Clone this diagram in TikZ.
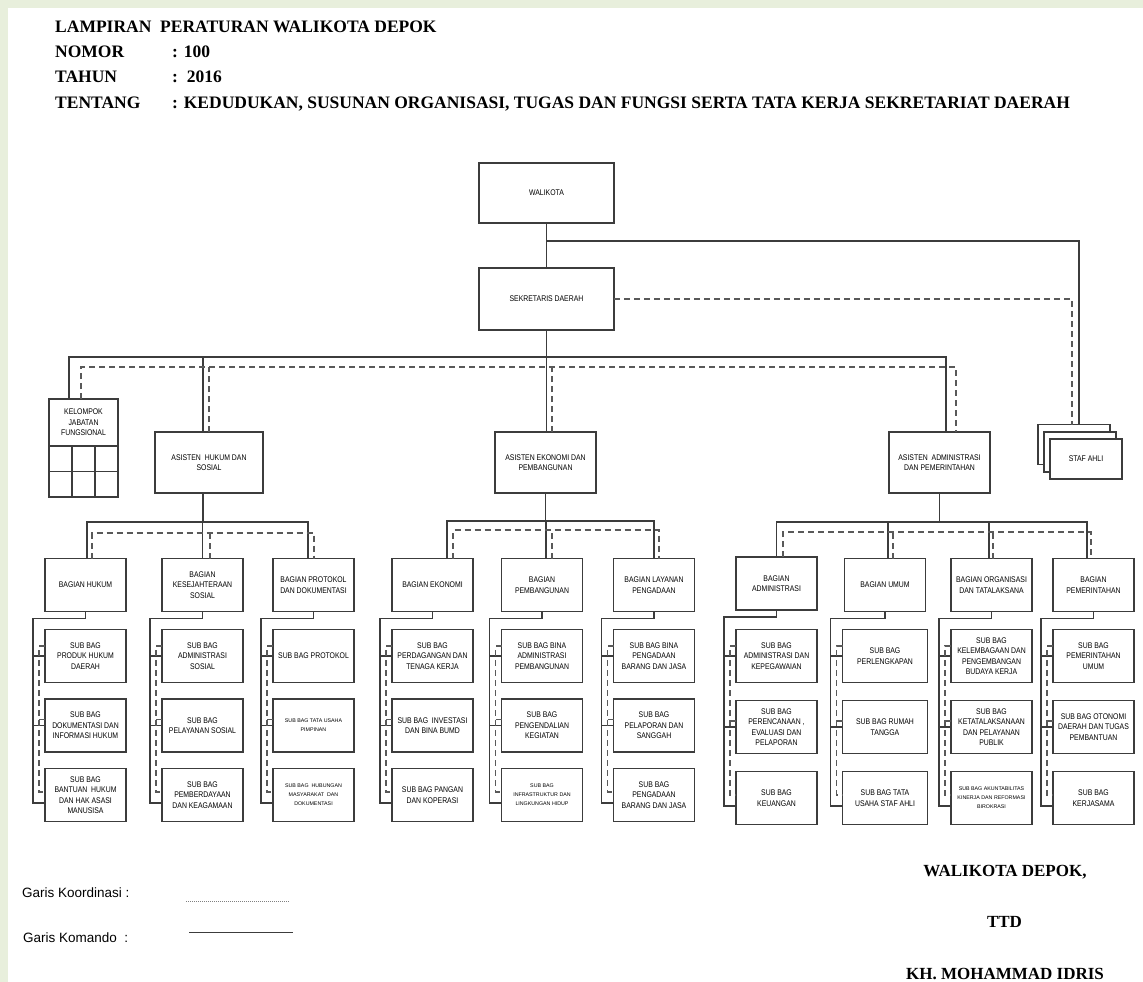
\documentclass[tikz,border=0pt]{standalone}
\usepackage{fontspec}
\setmainfont{Liberation Serif}
\newfontfamily\chartfont[FakeStretch=0.84]{Liberation Sans}
\newfontfamily\plainsans{Liberation Sans}
\usetikzlibrary{positioning,calc}
\definecolor{pagegreen}{HTML}{E8EFDC}
\definecolor{linegray}{HTML}{3C3C3C}

% bagian -> three sub bagian (komando + koordinasi)
\newcommand{\subtreelinks}[4]{%
  \draw[komando] (#1.south) -- ++(0,-7) -| ([xshift=-12pt,yshift=-8pt]#4.west) -- ([yshift=-8pt]#4.west);
  \draw[komando] ([xshift=-12pt]#2.west) -- (#2.west);
  \draw[komando] ([xshift=-12pt]#3.west) -- (#3.west);
  \draw[koordinasi] ([yshift=10pt]#2.west) -| ([xshift=-6pt,yshift=3pt]#4.west) -- ([yshift=3pt]#4.west);
  \draw[koordinasi] ([xshift=-6pt,yshift=6pt]#3.west) -- ([yshift=6pt]#3.west);
}

\begin{document}
\begin{tikzpicture}[
    x=1pt, y=1pt,
    box/.style={draw=linegray, line width=1.1pt, minimum width=81pt, minimum height=53pt, inner sep=1pt, outer sep=0pt, align=center, font=\chartfont\fontsize{8.2}{10.5}\selectfont},
    tinytxt/.style={font=\plainsans\fontsize{5.3}{9}\selectfont},
    cell/.style={draw=linegray, line width=1.1pt, minimum width=23pt, minimum height=25.5pt, inner sep=0pt, outer sep=0pt, anchor=north west},
    komando/.style={draw=linegray, line width=1.1pt},
    koordinasi/.style={draw=linegray!85, line width=1.1pt, dash pattern=on 6pt off 4pt},
    head/.style={font=\bfseries\fontsize{17.5}{20}\selectfont, anchor=base west, inner sep=0pt},
    sig/.style={font=\bfseries\fontsize{17}{20}\selectfont, anchor=base, inner sep=0pt},
    legend/.style={font=\plainsans\fontsize{13.5}{16}\selectfont, anchor=west, inner sep=0pt}
  ]
    % page
    \fill[pagegreen] (0,0) rectangle (1143,-982);
    \fill[white] (8,-8) rectangle (1143,-982);
    \useasboundingbox (0,0) rectangle (1143,-982);

    % heading
    \node[head] (lamp) at (55,-33) {LAMPIRAN\ \ PERATURAN WALIKOTA DEPOK};
    \node[head] (nomor) at (55,-58) {NOMOR};
    \node[head] (nomorv) at (172,-58) {: 100};
    \node[head] (tahun) at (55,-82.5) {TAHUN};
    \node[head] (tahunv) at (172,-82.5) {:\ \ 2016};
    \node[head] (tentang) at (55,-108) {TENTANG};
    \node[head] (tentangv) at (172,-108) {: KEDUDUKAN, SUSUNAN ORGANISASI, TUGAS DAN FUNGSI SERTA TATA KERJA SEKRETARIAT DAERAH};

    % top of the chart
    \node[box, minimum width=135pt, minimum height=60pt] (wali) at (546.5,-193) {WALIKOTA};
    \node[box, minimum width=135pt, minimum height=62pt] (sekda) at (546.5,-299) {SEKRETARIS DAERAH};
    \node[box, minimum width=69pt, minimum height=47pt] (kjf) at (83.5,-422.5) {KELOMPOK\\JABATAN\\FUNGSIONAL};
    \foreach \i in {0,1,2}
      \foreach \j in {0,1}
        \node[cell] (kjf\i\j) at ($(kjf.south west)+(\i*23,-\j*25.5)$) {};
    \node[box, minimum width=108pt, minimum height=61pt] (ashk) at (209,-462.5) {ASISTEN~ HUKUM DAN\\SOSIAL};
    \node[box, minimum width=101pt, minimum height=61pt] (asek) at (545.5,-462.5) {ASISTEN EKONOMI DAN\\PEMBANGUNAN};
    \node[box, minimum width=101pt, minimum height=61pt] (asadm) at (939.5,-462.5) {ASISTEN~ ADMINISTRASI\\DAN PEMERINTAHAN};
    \node[box, minimum width=72pt, minimum height=40pt] (stafa) at (1074,-444.5) {};
    \node[box, minimum width=72pt, minimum height=40pt, fill=white] (stafb) at (1080,-452) {};
    \node[box, minimum width=72pt, minimum height=40pt, fill=white] (stafc) at (1086,-459) {STAF AHLI};

    % bagian
    \node[box] (bhk) at (85.5,-585) {BAGIAN HUKUM};
    \node[box] (bks) at (202.5,-585) {BAGIAN\\KESEJAHTERAAN\\SOSIAL};
    \node[box] (bpd) at (313.5,-585) {BAGIAN PROTOKOL\\DAN DOKUMENTASI};
    \node[box] (bek) at (432.5,-585) {BAGIAN EKONOMI};
    \node[box] (bpb) at (542,-585) {BAGIAN\\PEMBANGUNAN};
    \node[box] (blp) at (654,-585) {BAGIAN LAYANAN\\PENGADAAN};
    \node[box] (badm) at (776.5,-583.5) {BAGIAN\\ADMINISTRASI};
    \node[box] (bum) at (885,-585) {BAGIAN UMUM};
    \node[box] (borg) at (991.5,-585) {BAGIAN ORGANISASI\\DAN TATALAKSANA};
    \node[box] (bpem) at (1093.5,-585) {BAGIAN\\PEMERINTAHAN};

    % sub bagian
    \node[box, below=18pt of bhk] (hk1) {SUB BAG\\PRODUK HUKUM\\DAERAH};
    \node[box, below=16.5pt of hk1] (hk2) {SUB BAG\\DOKUMENTASI DAN\\INFORMASI HUKUM};
    \node[box, below=16.5pt of hk2] (hk3) {SUB BAG\\BANTUAN~ HUKUM\\DAN HAK ASASI\\MANUSISA};
    \node[box, below=18pt of bks] (ks1) {SUB BAG\\ADMINISTRASI\\SOSIAL};
    \node[box, below=16.5pt of ks1] (ks2) {SUB BAG\\PELAYANAN SOSIAL};
    \node[box, below=16.5pt of ks2] (ks3) {SUB BAG\\PEMBERDAYAAN\\DAN KEAGAMAAN};
    \node[box, below=18pt of bpd] (pd1) {SUB BAG PROTOKOL};
    \node[box, tinytxt, below=16.5pt of pd1] (pd2) {SUB BAG TATA USAHA\\PIMPINAN};
    \node[box, tinytxt, below=16.5pt of pd2] (pd3) {SUB BAG~ HUBUNGAN\\MASYARAKAT~ DAN\\DOKUMENTASI};

    \node[box, below=18pt of bek] (ek1) {SUB BAG\\PERDAGANGAN DAN\\TENAGA KERJA};
    \node[box, below=16.5pt of ek1] (ek2) {SUB BAG~ INVESTASI\\DAN BINA BUMD};
    \node[box, below=16.5pt of ek2] (ek3) {SUB BAG PANGAN\\DAN KOPERASI};
    \node[box, below=18pt of bpb] (pb1) {SUB BAG BINA\\ADMINISTRASI\\PEMBANGUNAN};
    \node[box, below=16.5pt of pb1] (pb2) {SUB BAG\\PENGENDALIAN\\KEGIATAN};
    \node[box, tinytxt, below=16.5pt of pb2] (pb3) {SUB BAG\\INFRASTRUKTUR DAN\\LINGKUNGAN HIDUP};
    \node[box, below=18pt of blp] (lp1) {SUB BAG BINA\\PENGADAAN\\BARANG DAN JASA};
    \node[box, below=16.5pt of lp1] (lp2) {SUB BAG\\PELAPORAN DAN\\SANGGAH};
    \node[box, below=16.5pt of lp2] (lp3) {SUB BAG\\PENGADAAN\\BARANG DAN JASA};

    \node[box, below=19.5pt of badm] (adm1) {SUB BAG\\ADMINISTRASI DAN\\KEPEGAWAIAN};
    \node[box, below=18pt of adm1] (adm2) {SUB BAG\\PERENCANAAN ,\\EVALUASI DAN\\PELAPORAN};
    \node[box, below=18pt of adm2] (adm3) {SUB BAG\\KEUANGAN};
    \node[box, minimum width=85pt, below=18pt of bum] (um1) {SUB BAG\\PERLENGKAPAN};
    \node[box, minimum width=85pt, below=18pt of um1] (um2) {SUB BAG RUMAH\\TANGGA};
    \node[box, minimum width=85pt, below=18pt of um2] (um3) {SUB BAG TATA\\USAHA STAF AHLI};
    \node[box, below=18pt of borg] (org1) {SUB BAG\\KELEMBAGAAN DAN\\PENGEMBANGAN\\BUDAYA KERJA};
    \node[box, below=18pt of org1] (org2) {SUB BAG\\KETATALAKSANAAN\\DAN PELAYANAN\\PUBLIK};
    \node[box, tinytxt, below=18pt of org2] (org3) {SUB BAG AKUNTABILITAS\\KINERJA DAN REFORMASI\\BIROKRASI};
    \node[box, below=18pt of bpem] (pem1) {SUB BAG\\PEMERINTAHAN\\UMUM};
    \node[box, below=18pt of pem1] (pem2) {SUB BAG OTONOMI\\DAERAH DAN TUGAS\\PEMBANTUAN};
    \node[box, below=18pt of pem2] (pem3) {SUB BAG\\KERJASAMA};

    % walikota, sekda, staf ahli
    \draw[komando] (wali) -- (sekda);
    \coordinate (stafjct) at ($(wali.south)!0.4!(sekda.north)$);
    \draw[komando] (stafjct) -| ([xshift=5pt]stafa.north);
    \draw[koordinasi] (sekda.east) -| ([xshift=-2pt]stafa.north);

    % sekda -> asisten, kelompok jabatan fungsional
    \coordinate (topbus) at ($(sekda.south)+(0,-27)$);
    \draw[komando] (sekda.south) -- (sekda.south |- asek.north);
    \draw[komando] ([xshift=-14.5pt]kjf.north) |- (topbus) -| ([xshift=6.5pt]asadm.north);
    \draw[komando] ([xshift=-6pt]ashk.north) -- ++(0,75);
    \draw[koordinasi] ([xshift=-2.5pt]kjf.north) |- ([yshift=-10pt]topbus) -| ([xshift=16.5pt]asadm.north);
    \draw[koordinasi] (ashk.north) -- ++(0,65);
    \draw[koordinasi] ([xshift=6.5pt]asek.north) -- ++(0,65);

    % asisten hukum dan sosial
    \draw[komando] ([xshift=-6pt]ashk.south) -- ++(0,-29) coordinate (hkbus);
    \draw[komando] ([xshift=1.5pt]bhk.north) |- (hkbus) -| ([xshift=-5.5pt]bpd.north);
    \draw[komando] (bks.north) -- ++(0,36.5);
    \draw[koordinasi] ([xshift=6.5pt]bhk.north) |- ([yshift=-11pt]hkbus) -| ([xshift=0.5pt]bpd.north);
    \draw[koordinasi] ([xshift=7.5pt]bks.north) -- ++(0,25.5);

    % asisten ekonomi dan pembangunan
    \draw[komando] (asek.south) -- ++(0,-28) coordinate (ekbus);
    \draw[komando] ([xshift=14.5pt]bek.north) |- (ekbus) -| (blp.north);
    \draw[komando] ([xshift=4pt]bpb.north) -- ++(0,37.5);
    \draw[koordinasi] ([xshift=20.5pt]bek.north) |- ([yshift=-9pt]ekbus) -| ([xshift=5pt]blp.north);
    \draw[koordinasi] ([xshift=10pt]bpb.north) -- ++(0,28.5);

    % asisten administrasi dan pemerintahan
    \draw[komando] (asadm.south) -- ++(0,-29) coordinate (admbus);
    \draw[komando] (badm.north) |- (admbus) -| ([xshift=-6.5pt]bpem.north);
    \draw[komando] ([xshift=3pt]bum.north) -- ++(0,36.5);
    \draw[komando] ([xshift=-2.5pt]borg.north) -- ++(0,36.5);
    \draw[koordinasi] ([xshift=6.5pt]badm.north) |- ([yshift=-10pt]admbus) -| ([xshift=-2.5pt]bpem.north);
    \draw[koordinasi] ([xshift=8pt]bum.north) -- ++(0,26.5);
    \draw[koordinasi] ([xshift=1.5pt]borg.north) -- ++(0,26.5);

    % bagian -> sub bagian
    \subtreelinks{bhk}{hk1}{hk2}{hk3}
    \subtreelinks{bks}{ks1}{ks2}{ks3}
    \subtreelinks{bpd}{pd1}{pd2}{pd3}
    \subtreelinks{bek}{ek1}{ek2}{ek3}
    \subtreelinks{bpb}{pb1}{pb2}{pb3}
    \subtreelinks{blp}{lp1}{lp2}{lp3}
    \subtreelinks{badm}{adm1}{adm2}{adm3}
    \subtreelinks{bum}{um1}{um2}{um3}
    \subtreelinks{borg}{org1}{org2}{org3}
    \subtreelinks{bpem}{pem1}{pem2}{pem3}

    % legend
    \node[legend] (lgkoor) at (22,-893) {Garis Koordinasi :};
    \node[legend] (lgkom) at (23,-938) {Garis Komando~ :};
    \coordinate (koorA) at (186,-901);
    \coordinate (koorB) at (290,-901);
    \coordinate (komA) at (189,-932);
    \coordinate (komB) at (293,-932);
    \draw[gray, line width=0.6pt, dash pattern=on 1pt off 1pt] (koorA) -- (koorB);
    \draw[linegray, line width=0.9pt] (komA) -- (komB);

    % signature
    \node[sig] (sigwali) at (1005,-876) {WALIKOTA DEPOK,};
    \node[sig] (sigttd) at (1004.5,-927) {TTD};
    \node[sig] (signame) at (1005,-979) {KH. MOHAMMAD IDRIS};
  \end{tikzpicture}
\end{document}
